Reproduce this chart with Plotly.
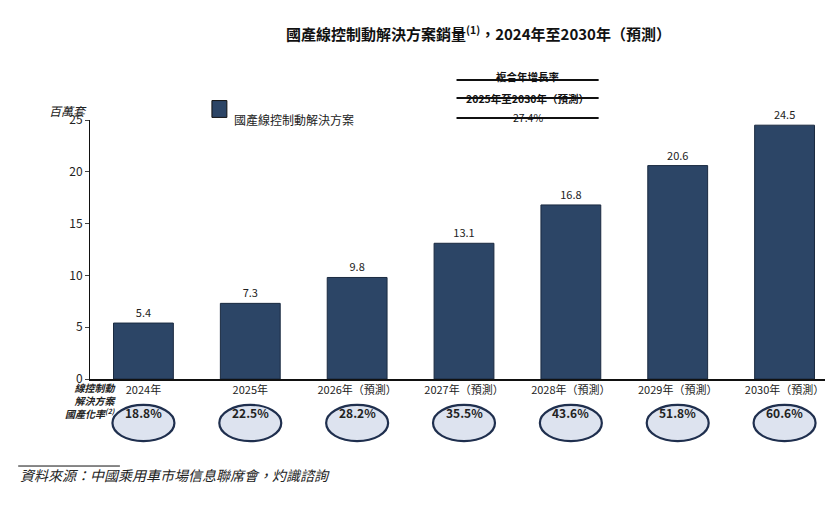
import plotly.graph_objects as go

categories = ["2024年", "2025年", "2026年（預測）", "2027年（預測）", "2028年（預測）", "2029年（預測）", "2030年（預測）"]
sales = [5.4, 7.3, 9.8, 13.1, 16.8, 20.6, 24.5]
rates = ["18.8%", "22.5%", "28.2%", "35.5%", "43.6%", "51.8%", "60.6%"]

F = "Noto Sans CJK TC"
navy = "#2c4566"
fig = go.Figure(go.Bar(x=categories, y=sales, marker=dict(color=navy, line=dict(color="#1a2a40", width=1)),
                       width=0.56, text=[f"{v:.1f}" for v in sales], textposition="outside",
                       textfont=dict(size=11, color="#222"), cliponaxis=False, showlegend=False))
shapes = []
ann = []
for i, r in enumerate(rates):
    shapes.append(dict(type="circle", xref="x", yref="paper", x0=i-0.29, x1=i+0.29, y0=-0.24, y1=-0.1,
                       fillcolor="#dde3ef", line=dict(color="#1f2f4e", width=2.2)))
    ann.append(dict(x=i, y=-0.17, xref="x", yref="paper", text=f"<b>{r}</b>", showarrow=False,
                    font=dict(size=12, color="#222", family=F)))
for y in [1.154, 1.085, 1.008]:
    shapes.append(dict(type="line", xref="paper", yref="paper", x0=0.49, x1=0.68, y0=y, y1=y,
                       line=dict(color="#111", width=2)))
shapes.append(dict(type="line", xref="paper", yref="paper", x0=-0.096, x1=0.04, y0=-0.336, y1=-0.336,
                   line=dict(color="#111", width=1)))
shapes.append(dict(type="rect", xref="paper", yref="paper", x0=0.163, x1=0.183, y0=1.01, y1=1.075,
                   fillcolor=navy, line=dict(color="#111", width=1)))
ann += [
    dict(x=0.52, y=1.386, xref="paper", yref="paper", showarrow=False,
         text="<b>國產線控制動解決方案銷量<sup>(1)</sup>，2024年至2030年（預測）</b>", font=dict(size=15, color="#111", family=F)),
    dict(x=0.585, y=1.205, xref="paper", yref="paper", showarrow=False, text="<b>複合年增長率</b>", font=dict(size=10.5, color="#111", family=F)),
    dict(x=0.585, y=1.12, xref="paper", yref="paper", showarrow=False, text="<b>2025年至2030年（預測）</b>", font=dict(size=10.5, color="#111", family=F)),
    dict(x=0.585, y=1.046, xref="paper", yref="paper", showarrow=False, text="27.4%", font=dict(size=10.5, color="#111", family=F)),
    dict(x=0.19, y=1.043, xref="paper", yref="paper", xanchor="left", showarrow=False, text="國產線控制動解決方案", font=dict(size=12, color="#222", family=F)),
    dict(x=-0.03, y=1.077, xref="paper", yref="paper", xanchor="center", showarrow=False, text="<i>百萬套</i>", font=dict(size=12, color="#222", family=F)),
    dict(x=0.038, y=-0.17, xref="paper", yref="paper", xanchor="right", showarrow=False, align="right",
         text="<b><i>線控制動<br>解決方案<br>國產化率<sup>(2)</sup></i></b>", font=dict(size=10, color="#222", family=F)),
    dict(x=-0.096, y=-0.417, xref="paper", yref="paper", xanchor="left", showarrow=False,
         text="<i>資料來源：中國乘用車市場信息聯席會，灼識諮詢</i>", font=dict(size=14, color="#222", family=F)),
]
fig.update_layout(width=833, height=506, margin=dict(l=82, r=3, t=112, b=135), plot_bgcolor="white", paper_bgcolor="white",
                  font=dict(family=F, color="#222"), shapes=shapes, annotations=ann, bargap=0.4,
                  xaxis=dict(showline=True, linecolor="#111", linewidth=1.5, tickfont=dict(size=11), ticks=""),
                  yaxis=dict(range=[0, 25], dtick=5, showgrid=False, showline=True, linecolor="#111", linewidth=1,
                             ticks="outside", ticklen=4, tickfont=dict(size=12), zeroline=False))
fig.write_html("out.html")
